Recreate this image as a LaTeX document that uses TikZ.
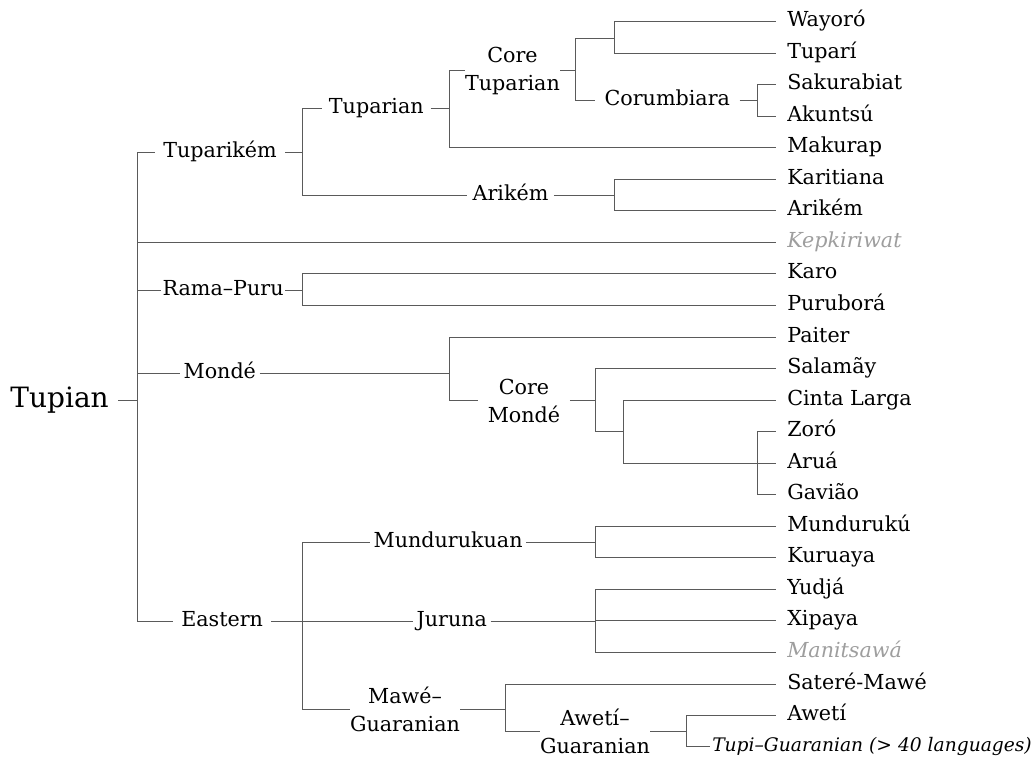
\documentclass[tikz,border=0pt]{standalone}
\usepackage{fontspec}
\setmainfont{DejaVu Serif}
\definecolor{linecol}{HTML}{5A5A5A}
\definecolor{extinct}{HTML}{9E9E9E}
\begin{document}
\begin{tikzpicture}[x=0.75pt,y=-0.75pt,
  every node/.style={font=\fontsize{15.5}{21}\selectfont, text=black},
  leaf/.style={anchor=west, inner xsep=8.25pt, inner ysep=0pt, text height=11.2pt, text depth=3.4pt},
  grp/.style={anchor=west, inner xsep=6pt, inner ysep=0pt, text height=11.2pt, text depth=3.4pt},
  grptwo/.style={align=center, inner xsep=0pt, inner ysep=0pt},
  ext/.style={text=extinct, font=\fontsize{15.5}{21}\selectfont\itshape},
  link/.style={draw=linecol, line width=1.2pt}]
\useasboundingbox (0,0) rectangle (1033,758);

% root
\node[anchor=east, inner xsep=6.75pt, inner ysep=0pt, font=\fontsize{21}{25}\selectfont, text height=15.2pt, text depth=4.6pt] (tupian) at (118,400.5) {Tupian};
\coordinate (r) at (137.5,400.5);

% leaves
\node[leaf] (wayoro) at (776,21.5) {Wayoró};
\node[leaf] (tupari) at (776,53.5) {Tuparí};
\node[leaf] (sakurabiat) at (776,84.5) {Sakurabiat};
\node[leaf] (akuntsu) at (776,116.5) {Akuntsú};
\node[leaf] (makurap) at (776,147.5) {Makurap};
\node[leaf] (karitiana) at (776,179.5) {Karitiana};
\node[leaf] (arikemL) at (776,210.5) {Arikém};
\node[leaf, ext] (kepkiriwat) at (776,242.5) {Kepkiriwat};
\node[leaf] (karo) at (776,273.5) {Karo};
\node[leaf] (purubora) at (776,305.5) {Puruborá};
\node[leaf] (paiter) at (776,337.5) {Paiter};
\node[leaf] (salamay) at (776,368.5) {Salamãy};
\node[leaf] (cinta) at (776,400.5) {Cinta Larga};
\node[leaf] (zoro) at (776,431.5) {Zoró};
\node[leaf] (arua) at (776,463.5) {Aruá};
\node[leaf] (gaviao) at (776,494.5) {Gavião};
\node[leaf] (munduruku) at (776,526.5) {Mundurukú};
\node[leaf] (kuruaya) at (776,557.5) {Kuruaya};
\node[leaf] (yudja) at (776,589.5) {Yudjá};
\node[leaf] (xipaya) at (776,620.5) {Xipaya};
\node[leaf, ext] (manitsawa) at (776,652.5) {Manitsawá};
\node[leaf] (satere) at (776,684.5) {Sateré-Mawé};
\node[leaf] (aweti) at (776,715.5) {Awetí};
\node[leaf, inner xsep=1.5pt, font=\fontsize{14}{18}\selectfont\itshape] (tg) at (710,746.5) {Tupi–Guaranian (> 40 languages)};

% groups
\node[grp] (tuparikem) at (155,152.5) {Tuparikém};
\node[grp, inner xsep=5pt] (tuparian) at (322,108.5) {Tuparian};
\node[grptwo] (coretup) at (512.5,70.5) {Core\\Tuparian};
\node[grp, inner xsep=7pt] (corumbiara) at (595,100.5) {Corumbiara};
\node[grp, inner xsep=4pt] (arikem) at (467,195.5) {Arikém};
\node[grp, inner xsep=1pt] (ramapuru) at (161,290.5) {Rama–Puru};
\node[grp, inner xsep=2.5pt] (monde) at (180,373.5) {Mondé};
\node[grptwo, inner xsep=7pt] (coremonde) at (524,400.5) {Core\\Mondé};
\node[grp] (eastern) at (173,621.5) {Eastern};
\node[grp, inner xsep=2.5pt] (mundurukuan) at (370,542.5) {Mundurukuan};
\node[grp, inner xsep=2.5pt] (juruna) at (413,621.5) {Juruna};
\node[grptwo] (mawe) at (405,709.5) {Mawé–\\Guaranian};
\node[grptwo] (awetig) at (595,731.5) {Awetí–\\Guaranian};

% junctions
\coordinate (jTk) at (302.5,152.5);
\coordinate (jTp) at (449.5,108.5);
\coordinate (jCT) at (575.5,70.5);
\coordinate (jWT) at (614.5,38.5);
\coordinate (jCo) at (757.5,100.5);
\coordinate (jAr) at (614.5,195.5);
\coordinate (jRP) at (302.5,290.5);
\coordinate (jMo) at (449.5,373.5);
\coordinate (jCM) at (595.5,400.5);
\coordinate (jCMb) at (623.5,431.5);
\coordinate (jZAG) at (757.5,463.5);
\coordinate (jE) at (302.5,621.5);
\coordinate (jMu) at (595.5,542.5);
\coordinate (jJu) at (595.5,621.5);
\coordinate (jMG) at (505.5,709.5);
\coordinate (jAG) at (686.5,731.5);

% root connectors
\draw[link] (tupian.east) -- (r);
\draw[link] (r) |- (tuparikem.west);
\draw[link] (r) |- (kepkiriwat.west);
\draw[link] (r) |- (ramapuru.west);
\draw[link] (r) |- (monde.west);
\draw[link] (r) |- (eastern.west);

% Tuparikem
\draw[link] (tuparikem.east) -- (jTk);
\draw[link] (jTk) |- (tuparian.west);
\draw[link] (jTk) |- (arikem.west);
\draw[link] (tuparian.east) -- (jTp);
\draw[link] (jTp) |- (coretup.west);
\draw[link] (jTp) |- (makurap.west);
\draw[link] (coretup.east) -- (jCT);
\draw[link] (jCT) |- (jWT);
\draw[link] (jCT) |- (corumbiara.west);
\draw[link] (jWT) |- (wayoro.west);
\draw[link] (jWT) |- (tupari.west);
\draw[link] (corumbiara.east) -- (jCo);
\draw[link] (jCo) |- (sakurabiat.west);
\draw[link] (jCo) |- (akuntsu.west);
\draw[link] (arikem.east) -- (jAr);
\draw[link] (jAr) |- (karitiana.west);
\draw[link] (jAr) |- (arikemL.west);

% Rama-Puru
\draw[link] (ramapuru.east) -- (jRP);
\draw[link] (jRP) |- (karo.west);
\draw[link] (jRP) |- (purubora.west);

% Monde
\draw[link] (monde.east) -- (jMo);
\draw[link] (jMo) |- (paiter.west);
\draw[link] (jMo) |- (coremonde.west);
\draw[link] (coremonde.east) -- (jCM);
\draw[link] (jCM) |- (salamay.west);
\draw[link] (jCM) |- (jCMb);
\draw[link] (jCMb) |- (cinta.west);
\draw[link] (jCMb) |- (jZAG);
\draw[link] (jZAG) |- (zoro.west);
\draw[link] (jZAG) -- (arua.west);
\draw[link] (jZAG) |- (gaviao.west);

% Eastern
\draw[link] (eastern.east) -- (jE);
\draw[link] (jE) |- (mundurukuan.west);
\draw[link] (jE) -- (juruna.west);
\draw[link] (jE) |- (mawe.west);
\draw[link] (mundurukuan.east) -- (jMu);
\draw[link] (jMu) |- (munduruku.west);
\draw[link] (jMu) |- (kuruaya.west);
\draw[link] (juruna.east) -- (jJu);
\draw[link] (jJu) |- (yudja.west);
\draw[link] (jJu) |- (xipaya.west);
\draw[link] (jJu) |- (manitsawa.west);
\draw[link] (mawe.east) -- (jMG);
\draw[link] (jMG) |- (satere.west);
\draw[link] (jMG) |- (awetig.west);
\draw[link] (awetig.east) -- (jAG);
\draw[link] (jAG) |- (aweti.west);
\draw[link] (jAG) |- (tg.west);
\end{tikzpicture}
\end{document}
